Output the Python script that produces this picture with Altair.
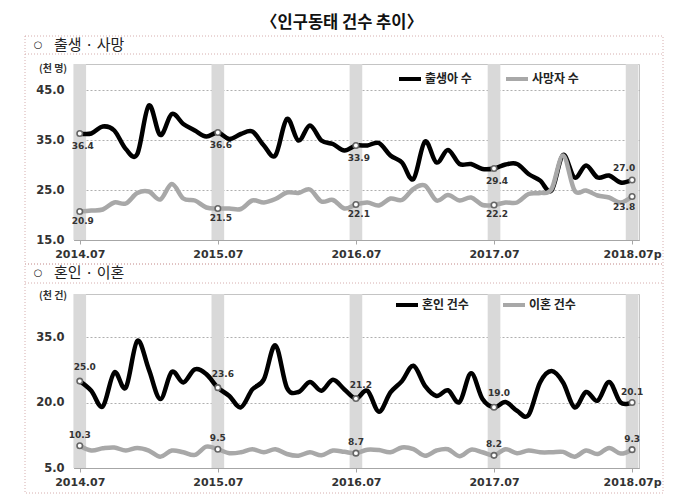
import json
import altair as alt
import pandas as pd

# ---------------- data ----------------
month_idx = list(range(49))  # 2014.07 ... 2018.07
july_idx = [0, 12, 24, 36, 48]
tick_labels = ["2014.07", "2015.07", "2016.07", "2017.07", "2018.07p"]

births = [36.3, 36.3, 37.7, 36.9, 33.2, 32.2, 41.9, 36.0, 40.2, 38.2, 36.9, 35.7,
          36.5, 35.2, 36.2, 36.7, 33.9, 31.9, 39.2, 34.9, 37.9, 34.9, 34.2, 32.9,
          33.9, 33.9, 34.4, 31.9, 30.5, 27.2, 34.7, 30.5, 33.0, 30.2, 30.2, 29.2,
          29.3, 30.1, 30.2, 28.2, 26.9, 24.9, 32.0, 27.5, 29.9, 27.5, 27.9, 26.5,
          27.0]
deaths = [20.7, 20.9, 21.1, 22.5, 22.3, 24.4, 24.7, 23.1, 26.2, 23.3, 22.9, 21.5,
          21.3, 21.3, 21.2, 22.9, 22.5, 23.2, 24.5, 24.4, 25.1, 22.7, 23.0, 21.3,
          22.1, 22.5, 21.9, 23.3, 23.0, 25.2, 25.9, 22.9, 24.0, 22.9, 23.5, 22.0,
          22.0, 22.5, 22.5, 24.2, 24.4, 25.2, 31.9, 24.9, 24.9, 23.9, 23.5, 22.5,
          23.7]
marriages = [24.9, 22.7, 19.1, 26.9, 23.4, 34.1, 27.6, 20.8, 27.0, 24.6, 27.6, 26.5,
             23.4, 21.5, 18.9, 23.0, 25.3, 33.1, 23.4, 22.4, 24.7, 22.7, 25.2, 23.0,
             20.9, 22.7, 17.9, 22.3, 24.9, 28.4, 23.8, 21.5, 22.8, 20.1, 26.7, 20.8,
             18.9, 20.1, 18.1, 17.1, 24.6, 27.2, 24.6, 18.9, 22.4, 20.4, 24.7, 20.0,
             20.0]
divorces = [10.1, 9.0, 9.5, 9.7, 9.0, 9.6, 9.0, 7.6, 9.0, 8.6, 8.0, 9.9,
            9.3, 8.4, 8.6, 9.3, 8.6, 9.3, 8.2, 7.8, 8.6, 7.9, 9.0, 8.7,
            8.4, 9.2, 9.1, 8.6, 9.7, 9.3, 7.8, 9.0, 9.3, 7.7, 9.2, 8.6,
            7.9, 9.3, 8.4, 9.0, 8.6, 8.6, 8.7, 7.6, 9.0, 8.2, 9.6, 8.3,
            9.2]

births_labels = ["36.4", "36.6", "33.9", "29.4", "27.0"]
deaths_labels = ["20.9", "21.5", "22.1", "22.2", "23.8"]
marriages_labels = ["25.0", "23.6", "21.2", "19.0", "20.1"]
divorces_labels = ["10.3", "9.5", "8.7", "8.2", "9.3"]

series_top = ["출생아 수", "사망자 수"]
series_bot = ["혼인 건수", "이혼 건수"]

title_text = "〈인구동태 건수 추이〉"
bullet = "○"
header_top = "출생 · 사망"
header_bot = "혼인 · 이혼"
unit_top = "(천 명)"
unit_bot = "(천 건)"

# ---------------- styling ----------------
KFONT = "Noto Sans CJK KR"
NFONT = "DejaVu Sans"
BOX = "#d6aeae"
W = 565

label_expr = json.dumps(tick_labels) + "[round(datum.value / 12)]"


def panel(names, vals_a, vals_b, labs_a, labs_b, ydom, yticks, height,
          header, unit, header_y, box_top, box_hdr, box_bot, unit_y,
          legend_x, legend_y, offs, title=None):
    rows = []
    for name, vals in zip(names, [vals_a, vals_b]):
        for m, v in zip(month_idx, vals):
            rows.append({"m": m, "v": v, "s": name})
    df = pd.DataFrame(rows)

    pts = []
    for name, vals, labs in zip(names, [vals_a, vals_b], [labs_a, labs_b]):
        for k, m in enumerate(july_idx):
            pts.append({"m": m, "v": vals[m], "s": name, "lab": labs[k],
                        "last": m == july_idx[-1]})
    dpts = pd.DataFrame(pts)
    dbands = pd.DataFrame({"m": july_idx})

    xs = alt.Scale(domain=[-0.5, 48.6], nice=False, zero=False)
    ys = alt.Scale(domain=ydom, nice=False, zero=False)

    x_axis = alt.Axis(values=july_idx, labelExpr=label_expr, grid=False,
                      domainColor="#a6a6a6", tickColor="#a6a6a6", tickSize=4,
                      labelFont=NFONT, labelFontWeight="bold", labelFontSize=11,
                      labelColor="#333333", labelPadding=4, title=None)
    y_axis = alt.Axis(values=yticks, format=".1f", grid=True, gridDash=[2, 2],
                      gridColor="#9a9a9a", gridWidth=0.8, ticks=False,
                      domainColor="#a6a6a6", labelFont=NFONT,
                      labelFontWeight="bold", labelFontSize=11.5,
                      labelColor="#333333", labelPadding=10, title=None)

    bands = alt.Chart(dbands).transform_calculate(
        a="datum.m - 0.55", b="datum.m + 0.55"
    ).mark_rect(color="#d9d9d9").encode(
        x=alt.X("a:Q", scale=xs, axis=x_axis),
        x2="b:Q",
        y=alt.value(0), y2=alt.value(height),
    )

    lines = alt.Chart(df).mark_line(interpolate="cardinal", strokeWidth=4.5,
                                    strokeCap="round", strokeJoin="round").encode(
        x=alt.X("m:Q", scale=xs, axis=x_axis),
        y=alt.Y("v:Q", scale=ys, axis=y_axis),
        color=alt.Color("s:N", scale=alt.Scale(domain=names, range=["#000000", "#a8a8a8"]),
                        legend=alt.Legend(orient="none", legendX=legend_x, legendY=legend_y,
                                          direction="horizontal", title=None,
                                          symbolType="stroke", symbolStrokeWidth=4,
                                          symbolSize=484, labelFont=KFONT,
                                          labelFontWeight="bold", labelFontSize=12,
                                          labelColor="#222222", labelOffset=2,
                                          columnPadding=26, padding=0)),
        detail="s:N",
    )

    markers = alt.Chart(dpts).mark_point(shape="circle", filled=True, fill="white",
                                         stroke="#666666", strokeWidth=1.6,
                                         size=30, opacity=1).encode(
        x=alt.X("m:Q", scale=xs), y=alt.Y("v:Q", scale=ys))

    label_layers = []
    for name, key in zip(names, ["a", "b"]):
        for last in [False, True]:
            dx, dy = offs[key + ("L" if last else "")]
            sub = dpts[(dpts["s"] == name) & (dpts["last"] == last)]
            label_layers.append(
                alt.Chart(sub).mark_text(font=NFONT, fontWeight="bold", fontSize=9,
                                         color="#333333", dx=dx, dy=dy,
                                         baseline="middle", align="center").encode(
                    x=alt.X("m:Q", scale=xs), y=alt.Y("v:Q", scale=ys), text="lab:N"))

    one = pd.DataFrame({"k": [0]})
    box = alt.Chart(one).mark_rect(fillOpacity=0, stroke=BOX, strokeWidth=1,
                                   strokeDash=[1, 2]).encode(
        x=alt.value(-49), x2=alt.value(589), y=alt.value(box_top), y2=alt.value(box_bot))
    hdr_line = alt.Chart(one).mark_rule(stroke=BOX, strokeWidth=1,
                                        strokeDash=[1, 2]).encode(
        x=alt.value(-49), x2=alt.value(589), y=alt.value(box_hdr))
    bullet_text = alt.Chart(pd.DataFrame({"t": [bullet]})).mark_text(
        font=NFONT, fontSize=10, color="#222222", align="center", baseline="middle"
    ).encode(x=alt.value(-36), y=alt.value(header_y), text="t:N")
    hdr_text = alt.Chart(pd.DataFrame({"t": [header]})).mark_text(
        font=KFONT, fontSize=15, color="#222222", align="left", baseline="middle"
    ).encode(x=alt.value(-20), y=alt.value(header_y), text="t:N")
    unit_text = alt.Chart(pd.DataFrame({"t": [unit]})).mark_text(
        font=KFONT, fontSize=10, fontWeight="bold", color="#333333",
        align="center", baseline="middle"
    ).encode(x=alt.value(-21), y=alt.value(unit_y), text="t:N")

    layers = [bands, lines, markers] + label_layers + [box, hdr_line, bullet_text,
                                                       hdr_text, unit_text]

    if title is not None:
        ttl = alt.Chart(pd.DataFrame({"t": [title]})).mark_text(
            font=KFONT, fontSize=16.5, fontWeight="bold", color="#111111",
            align="center", baseline="middle"
        ).encode(x=alt.value(268), y=alt.value(-41.5), text="t:N")
        anchor = alt.Chart(one).mark_rect(opacity=0).encode(
            x=alt.value(-65), x2=alt.value(-63), y=alt.value(-55), y2=alt.value(-53))
        layers += [ttl, anchor]

    return alt.layer(*layers).properties(width=W, height=height)


top = panel(series_top, births, deaths, births_labels, deaths_labels,
            [15, 50.2], [15, 25, 35, 45], 176,
            header_top, unit_top, header_y=-19, box_top=-28, box_hdr=-10, box_bot=200,
            unit_y=5, legend_x=323, legend_y=2,
            offs={"a": (3, 12), "aL": (-8, -12), "b": (3, 9), "bL": (-8, 10)},
            title=title_text)

bot = panel(series_bot, marriages, divorces, marriages_labels, divorces_labels,
            [5, 44.85], [5, 20, 35], 174,
            header_bot, unit_bot, header_y=-21, box_top=-30, box_hdr=-11, box_bot=199,
            unit_y=2, legend_x=320, legend_y=-2,
            offs={"a": (5, -14), "aL": (0, -11), "b": (0, -11), "bL": (0, -11)})

chart = alt.vconcat(top, bot, spacing=54, bounds="flush").resolve_scale(
    color="independent"
).properties(padding=0, background="white").configure_view(
    stroke="#c4c4c4", strokeWidth=1
)

chart.save("out.html", embed_options={"renderer": "svg", "actions": False})
